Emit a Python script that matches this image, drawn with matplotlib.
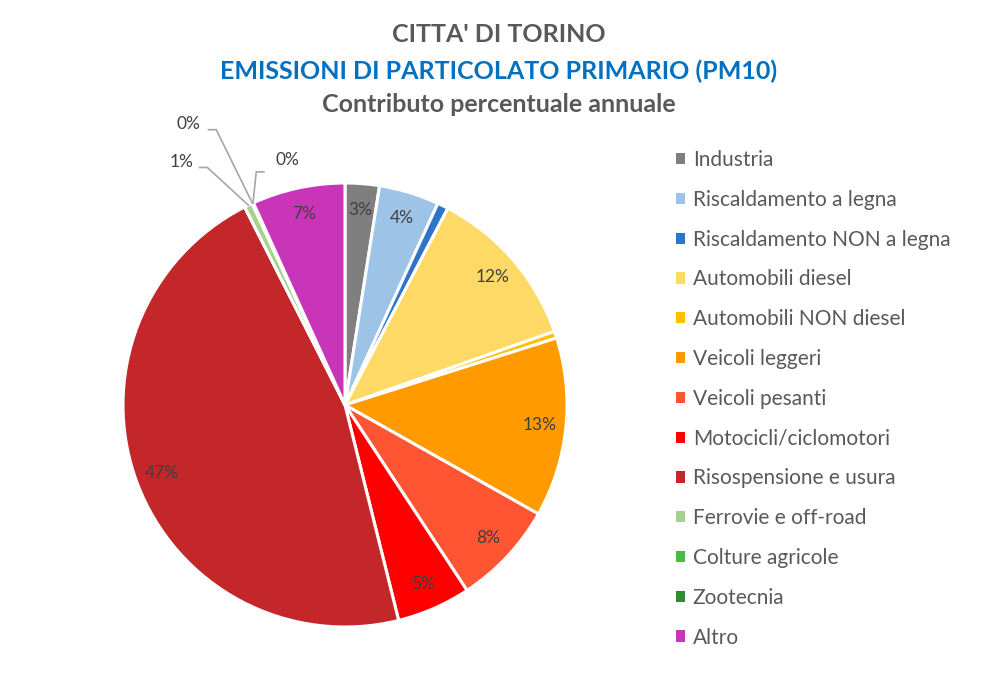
import matplotlib.pyplot as plt
import numpy as np

plt.rcParams['font.family'] = ['Lato', 'DejaVu Sans']

categorie = ['Industria', 'Riscaldamento a legna', 'Riscaldamento NON a legna',
             'Automobili diesel', 'Automobili NON diesel', 'Veicoli leggeri',
             'Veicoli pesanti', 'Motocicli/ciclomotori', 'Risospensione e usura',
             'Ferrovie e off-road', 'Colture agricole', 'Zootecnia', 'Altro']
valori = [2.5, 4.4, 0.8, 12.0, 0.5, 13.1, 7.6, 5.4, 46.6, 0.6, 0.05, 0.05, 6.8]
colori = ['#7f7f7f', '#9dc3e6', '#2e75c6', '#ffd966', '#ffc000', '#ff9a00',
          '#ff5533', '#ff0000', '#c3272a', '#a9d18e', '#4cb848', '#338a32', '#c935b9']
# etichette mostrate (None = nessuna etichetta)
etichette = ['3%', '4%', None, '12%', None, '13%', '8%', '5%', '47%', '1%', '0%', '0%', '7%']

fig = plt.figure(figsize=(9.97, 6.86), dpi=100)
W, H = 997, 686
cx, cy, R = 345, 405, 222
ax = fig.add_axes([(cx - R) / W, (H - cy - R) / H, 2 * R / W, 2 * R / H])

wedges, _ = ax.pie(valori, colors=colori, startangle=90, counterclock=False,
                   wedgeprops=dict(edgecolor='white', linewidth=2.2))
ax.set_xlim(-1, 1)
ax.set_ylim(-1, 1)
ax.set_aspect('equal')
ax.axis('off')

# etichette interne
for w, lab in zip(wedges, etichette):
    ang = np.deg2rad((w.theta1 + w.theta2) / 2)
    if lab is None:
        continue
    if w.theta2 - w.theta1 > 5:
        ax.text(0.88 * np.cos(ang), 0.88 * np.sin(ang), lab, ha='center', va='center',
                fontsize=12.5, color='#404040')

# etichette esterne con linee guida per le fette piccole
gomiti = {9: (-0.62, 1.07), 10: (-0.58, 1.24), 11: (-0.40, 1.05)}
testi = {9: (-0.735, 1.095), 10: (-0.705, 1.265), 11: (-0.26, 1.105)}
for i, (dx, dy) in gomiti.items():
    w = wedges[i]
    ang = np.deg2rad((w.theta1 + w.theta2) / 2)
    x0, y0 = np.cos(ang), np.sin(ang)
    ax.plot([x0, dx, dx + (0.035 if i == 11 else -0.035)], [y0, dy, dy],
            color='#a6a6a6', linewidth=1.2, clip_on=False)
    ax.text(testi[i][0], testi[i][1], etichette[i], ha='center', va='center',
            fontsize=12.5, color='#404040', clip_on=False)

# titolo
fig.text(0.5, 1 - 35 / H, "CITTA' DI TORINO", ha='center', va='center',
         fontsize=18, fontweight='bold', color='#595959')
fig.text(0.5, 1 - 71 / H, 'EMISSIONI DI PARTICOLATO PRIMARIO (PM10)', ha='center',
         va='center', fontsize=18, fontweight='bold', color='#0070c0')
fig.text(0.5, 1 - 105 / H, 'Contributo percentuale annuale', ha='center', va='center',
         fontsize=18, fontweight='bold', color='#595959')

# legenda
leg = fig.legend(wedges, categorie, loc='upper left', bbox_to_anchor=(676 / W, 1 - 150 / H),
                 frameon=False, fontsize=15, labelcolor='#595959', borderpad=0,
                 borderaxespad=0, handlelength=0.45, handleheight=0.45,
                 handletextpad=0.35, labelspacing=0.95)
for h in leg.legend_handles:
    h.set_edgecolor('none')

fig.savefig('out.png', dpi=100)
